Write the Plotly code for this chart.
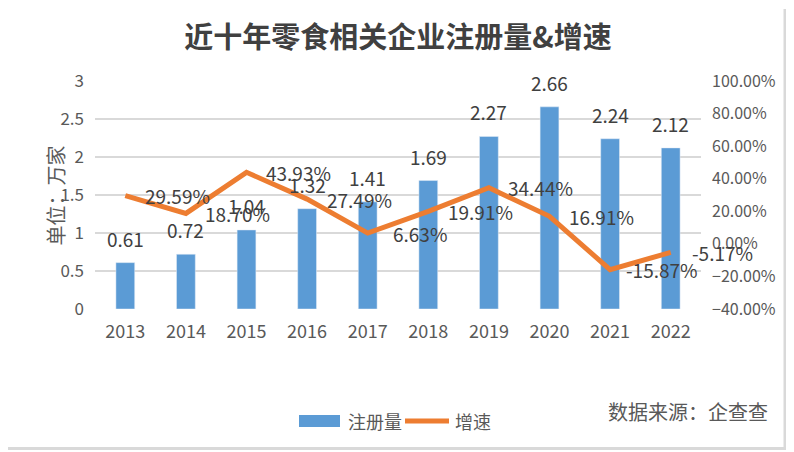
import plotly.graph_objects as go

years = ["2013", "2014", "2015", "2016", "2017", "2018", "2019", "2020", "2021", "2022"]
registrations = [0.61, 0.72, 1.04, 1.32, 1.41, 1.69, 2.27, 2.66, 2.24, 2.12]
growth_pct = [29.59, 18.70, 43.93, 27.49, 6.63, 19.91, 34.44, 16.91, -15.87, -5.17]

# page offset (browser body margin) compensation
OFF = 8
W, H = 794 - OFF, 452 - OFF
ML, MT = 95 - OFF, 81 - OFF
PR, PB = 701 - OFF, 309 - OFF
MR, MB = W - PR, H - PB
PW, PH = PR - ML, PB - MT
FONT = "Noto Sans CJK SC"
BLUE = "#5B9BD5"
ORANGE = "#ED7D31"
TXT = "#404040"
AX = "#595959"
BORDER = "#D9D9D9"


def px(xp):  # page x -> paper
    return (xp - OFF - ML) / PW


def py(yp):  # page y -> paper
    return (PB - (yp - OFF)) / PH


xs = list(range(len(years)))

fig = go.Figure()
fig.add_trace(go.Bar(x=xs, y=registrations, name="注册量", marker_color=BLUE,
                     width=0.31, yaxis="y", showlegend=False))
fig.add_trace(go.Scatter(x=xs, y=growth_pct, name="增速", mode="lines",
                         line=dict(color=ORANGE, width=5), yaxis="y2", showlegend=False))

ann = []
for xi, v in zip(xs, registrations):
    ann.append(dict(x=xi, y=v, xref="x", yref="y", text=f"{v:.2f}", showarrow=False,
                    yanchor="bottom", yshift=9, font=dict(size=19, color=TXT, family=FONT)))
for xi, g in zip(xs, growth_pct):
    ann.append(dict(x=xi, y=g, xref="x", yref="y2", text=f"{g:.2f}%", showarrow=False,
                    xanchor="center", yanchor="middle", xshift=52,
                    font=dict(size=19, color=TXT, family=FONT)))
ann.append(dict(x=px(38), y=py(196), xref="paper", yref="paper", text="单位：万家",
                textangle=-90, showarrow=False, font=dict(size=20, color=AX, family=FONT)))
ann.append(dict(x=px(770), y=py(411), xref="paper", yref="paper",
                text="数据来源：企查查", showarrow=False, xanchor="right", yanchor="middle",
                font=dict(size=20, color=AX, family=FONT)))
# manual legend
ann.append(dict(x=px(346), y=py(421), xref="paper", yref="paper", text="注册量",
                showarrow=False, xanchor="left", yanchor="middle",
                font=dict(size=18, color=AX, family=FONT)))
ann.append(dict(x=px(453), y=py(421), xref="paper", yref="paper", text="增速",
                showarrow=False, xanchor="left", yanchor="middle",
                font=dict(size=18, color=AX, family=FONT)))

shapes = [
    dict(type="rect", xref="paper", yref="paper", x0=px(299), x1=px(340),
         y0=py(427), y1=py(415), fillcolor=BLUE, line=dict(width=0)),
    dict(type="line", xref="paper", yref="paper", x0=px(405), x1=px(449),
         y0=py(421), y1=py(421), line=dict(color=ORANGE, width=5)),
    dict(type="line", xref="paper", yref="paper", x0=px(785), x1=px(785),
         y0=py(9), y1=py(449), line=dict(color=BORDER, width=3)),
    dict(type="line", xref="paper", yref="paper", x0=px(8), x1=px(786),
         y0=py(448.5), y1=py(448.5), line=dict(color=BORDER, width=3)),
]

fig.update_layout(
    width=W, height=H,
    margin=dict(l=ML, r=MR, t=MT, b=MB),
    paper_bgcolor="white", plot_bgcolor="white",
    font=dict(family=FONT, color=AX),
    title=dict(text="<b>近十年零食相关企业注册量&增速</b>", x=0.5, xref="paper",
               y=1 - (38 - OFF) / H, yanchor="middle", xanchor="center",
               font=dict(size=29, color=TXT, family=FONT)),
    xaxis=dict(range=[-0.5, len(years) - 0.5], tickvals=xs, ticktext=years,
               showgrid=False, showline=False, ticks="", zeroline=False,
               tickfont=dict(size=18, color=AX), ticklabelstandoff=10),
    yaxis=dict(range=[0, 3], dtick=0.5, showgrid=True, gridcolor=BORDER, gridwidth=1.5,
               zeroline=False, tickfont=dict(size=17, color=AX), ticklabelstandoff=10),
    yaxis2=dict(range=[-40, 100], dtick=20, overlaying="y", side="right", showgrid=False,
                zeroline=False, tickformat=".2f", ticksuffix="%",
                tickfont=dict(size=16, color=AX), ticklabelstandoff=10),
    showlegend=False,
    annotations=ann,
    shapes=shapes,
)

fig.write_html("out.html")
